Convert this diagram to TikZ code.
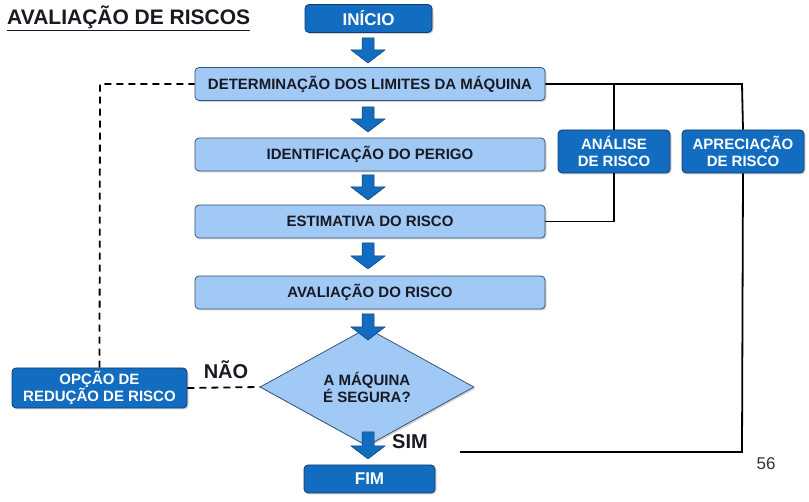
\documentclass[tikz,border=0pt]{standalone}
\usepackage{fontspec}
\setmainfont{Liberation Sans}
\usetikzlibrary{shapes.geometric,shadows,calc}
\definecolor{dkfill}{RGB}{18,108,192}
\definecolor{dkline}{RGB}{20,60,110}
\definecolor{ltfill}{RGB}{160,202,245}
\definecolor{ltline}{RGB}{55,85,120}
\definecolor{txt}{RGB}{25,25,35}
\tikzset{
  shd/.style={drop shadow={shadow xshift=1.5pt,shadow yshift=-1.5pt,opacity=0.35}},
  dkbox/.style={draw=dkline,line width=0.8pt,fill=dkfill,rounded corners=4pt,shd,text=white,font=\bfseries\fontsize{15}{17}\selectfont,align=center,inner sep=0pt},
  ltbox/.style={draw=ltline,line width=0.8pt,fill=ltfill,rounded corners=4pt,shd,text=txt,font=\bfseries\fontsize{15}{17}\selectfont,align=center,inner sep=0pt,minimum width=350pt,minimum height=33pt},
  conn/.style={line width=1.8pt,black},
  dconn/.style={line width=1.8pt,black,dash pattern=on 7pt off 5pt},
  barr/.style={fill=dkfill,draw=dkline,line width=0.5pt}
}
\newcommand\barrow[3]{\fill[barr] (#1-6,#2) -- (#1+6,#2) -- (#1+6,#3-13) -- (#1+17,#3-13) -- (#1,#3) -- (#1-17,#3-13) -- (#1-6,#3-13) -- cycle;}
\begin{document}
\begin{tikzpicture}[x=1pt,y=-1pt]
\useasboundingbox (0,0) rectangle (809,502);
% title
\node[anchor=west,font=\bfseries\fontsize{21}{23}\selectfont,text=txt,inner sep=0pt] (title) at (7,18) {\underline{AVALIAÇÃO DE RISCOS}};
% boxes
\node[dkbox,minimum width=127pt,minimum height=28pt,font=\bfseries\fontsize{17}{19}\selectfont] (inicio) at (368.5,18.5) {INÍCIO};
\node[ltbox] (det) at (370,84) {DETERMINAÇÃO DOS LIMITES DA MÁQUINA};
\node[ltbox] (ide) at (370,154.5) {IDENTIFICAÇÃO DO PERIGO};
\node[ltbox] (est) at (370,221.5) {ESTIMATIVA DO RISCO};
\node[ltbox] (ava) at (370,292.5) {AVALIAÇÃO DO RISCO};
\node[diamond,draw=ltline,line width=0.8pt,fill=ltfill,shd,minimum width=214pt,minimum height=82pt,inner sep=0pt,text=txt,font=\bfseries\fontsize{15}{17}\selectfont,align=center] (seg) at (367,387) {A MÁQUINA\\É SEGURA?};
\node[dkbox,minimum width=131pt,minimum height=28pt,font=\bfseries\fontsize{17}{19}\selectfont] (fim) at (369.5,479) {FIM};
\node[dkbox,minimum width=175pt,minimum height=40pt] (opc) at (99.5,388) {OPÇÃO DE\\REDUÇÃO DE RISCO};
\node[dkbox,minimum width=112pt,minimum height=43pt] (ana) at (614,151.5) {ANÁLISE\\DE RISCO};
\node[dkbox,minimum width=122pt,minimum height=43pt] (apr) at (743,151.5) {APRECIAÇÃO\\DE RISCO};
% block arrows
\barrow{368}{38}{63}
\barrow{368}{107}{132}
\barrow{368}{175}{200}
\barrow{368}{243}{269}
\barrow{368}{314}{340}
\barrow{368}{432}{459}
% labels
\node[font=\bfseries\fontsize{20}{22}\selectfont,text=txt,inner sep=0pt] (nao) at (226,370) {NÃO};
\node[font=\bfseries\fontsize{20}{22}\selectfont,text=txt,inner sep=0pt] (sim) at (410,442) {SIM};
\node[font=\fontsize{17}{19}\selectfont,text=black!80,inner sep=0pt] (pg) at (766,464) {56};
% connectors
\coordinate (c1) at (742,84);
\coordinate (c2) at (614,84);
\coordinate (c3) at (742,452);
\coordinate (c4) at (460,452);
\coordinate (c5) at (614,221.5);
\coordinate (c6) at (100,84);
\draw[conn] (det.east) -- (c1) -- (apr.north);
\draw[conn] (apr.south) -- (c3) -- (c4);
\draw[conn] (c2) -- (ana.north);
\draw[conn] (ana.south) -- (c5) -- (est.east);
\draw[dconn] (opc.east) -- (seg.west);
\draw[dconn] (opc.north) -- (c6) -- (det.west);
\end{tikzpicture}
\end{document}
